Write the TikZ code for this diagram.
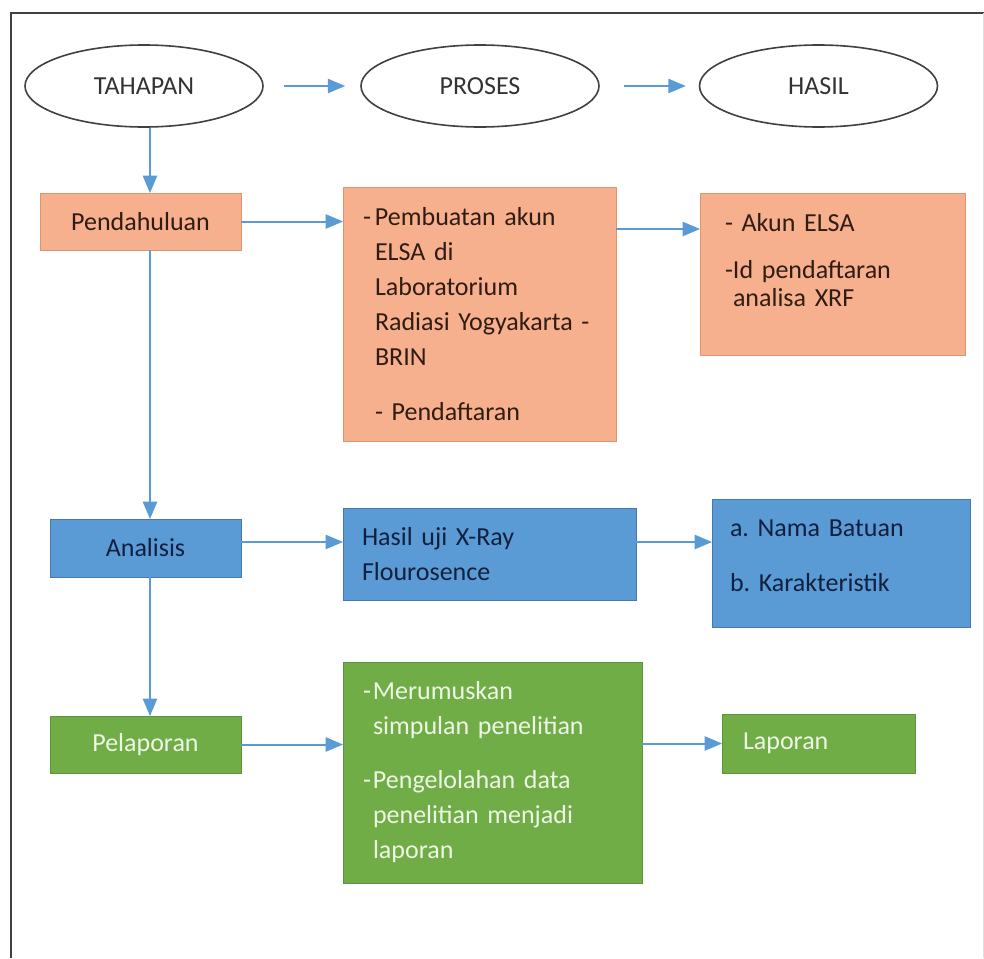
\documentclass[tikz,border=0pt]{standalone}
\usepackage{fontspec}
\setmainfont{Carlito}
\usepackage{xcolor}
\usepackage{tikz}
\usetikzlibrary{arrows,shapes.geometric}

\definecolor{oranyeFill}{RGB}{246,176,142}
\definecolor{oranyeLine}{RGB}{224,148,110}
\definecolor{oranyeText}{RGB}{48,28,18}
\definecolor{biruFill}{RGB}{91,155,213}
\definecolor{biruLine}{RGB}{70,120,170}
\definecolor{biruText}{RGB}{16,32,62}
\definecolor{hijauFill}{RGB}{112,173,71}
\definecolor{hijauLine}{RGB}{92,150,58}
\definecolor{hijauText}{RGB}{238,247,230}
\definecolor{panahBiru}{RGB}{91,155,213}

\begin{document}
\begin{tikzpicture}[
x=0.5pt, y=-0.5pt,
font=\fontsize{13}{17.5}\selectfont,
    E/.style = {ellipse, draw=black!75, line width=0.8pt,% header ovals
                minimum width=119pt, minimum height=41pt, text=black!80},
    O/.style = {rectangle, draw=oranyeLine, fill=oranyeFill,% tahap pendahuluan
                text=oranyeText, outer sep=0pt},
    B/.style = {rectangle, draw=biruLine, fill=biruFill,% tahap analisis
                text=biruText, outer sep=0pt},
    G/.style = {rectangle, draw=hijauLine, fill=hijauFill,% tahap pelaporan
                text=hijauText, outer sep=0pt},
    panah/.style = {draw=panahBiru, line width=1pt, -triangle 45},
                        ]
\useasboundingbox (0,0) rectangle (984,958);
% frame
\draw[line width=1pt, black!75] (11,958) -- (11,13) -- (984,13);
\draw[black!12] (983,13) -- (983,958);
% header
\node[E] (tahapan) at (144,86) {TAHAPAN};
\node[E] (proses)  at (480,86) {PROSES};
\node[E] (hasil)   at (818.5,86) {HASIL};
\draw[panah, shorten <=10pt, shorten >=7.5pt] (tahapan) -- (proses);
\draw[panah, shorten <=12pt, shorten >=6.5pt] (proses) -- (hasil);
% pendahuluan
\node[O, minimum width=100.5pt, minimum height=28.5pt] (pendahuluan) at (140.5,221.5) {Pendahuluan};
\node[O, minimum width=136.5pt, minimum height=127pt, inner xsep=10pt,
      text width=116.5pt, align=left] (prosesA) at (479.5,314)
     {\makebox[6pt][l]{-}Pembuatan akun\\
      \hspace*{6pt}ELSA di\\
      \hspace*{6pt}Laboratorium\\
      \hspace*{6pt}Radiasi Yogyakarta -\\
      \hspace*{6pt}BRIN\\[10pt]
      \hspace*{6pt}- Pendaftaran};
\node[O, minimum width=132.5pt, minimum height=81pt, inner xsep=12.5pt,
      text width=107.5pt, align=left, font=\fontsize{13}{14}\selectfont] (hasilA) at (832.5,274)
     {- Akun ELSA\\[9.5pt]
      \makebox[4pt][l]{-}Id pendaftaran\\
      \hspace*{4pt}analisa XRF\par\vspace*{13.5pt}};
% analisis
\node[B, minimum width=95.5pt, minimum height=29pt] (analisis) at (145.5,548) {Analisis};
\node[B, minimum width=146.5pt, minimum height=46pt, inner xsep=9.5pt,
      text width=127.5pt, align=left] (prosesB) at (489.5,554)
     {Hasil uji X-Ray\\ Flourosence};
\node[B, minimum width=129pt, minimum height=64pt, inner xsep=9pt,
      text width=111pt, align=left] (hasilB) at (841,563)
     {a.\ Nama Batuan\\[10pt]
      b.\ Karakteristik\par\vspace*{7.5pt}};
% pelaporan
\node[G, minimum width=95.5pt, minimum height=28.5pt] (pelaporan) at (145.5,744.5) {Pelaporan};
\node[G, minimum width=149.5pt, minimum height=110.5pt, inner xsep=10pt,
      text width=129.5pt, align=left] (prosesC) at (492.5,772.5)
     {\makebox[5pt][l]{-}Merumuskan\\
      \hspace*{5pt}simpulan penelitian\\[9.5pt]
      \makebox[5pt][l]{-}Pengelolahan data\\
      \hspace*{5pt}penelitian menjadi\\
      \hspace*{5pt}laporan};
\node[G, minimum width=96.5pt, minimum height=29.5pt, inner xsep=10.5pt,
      text width=75.5pt, align=left] (hasilC) at (818.5,743.5) {Laporan};
% alur vertikal
\coordinate (sumbu) at (150,0);
\draw[panah] (tahapan.south -| sumbu) -- (pendahuluan.north -| sumbu);
\draw[panah] (pendahuluan.south -| sumbu) -- (analisis.north -| sumbu);
\draw[panah] (analisis.south -| sumbu) -- (pelaporan.north -| sumbu);
% alur horizontal
\draw[panah] (pendahuluan.east) -- (pendahuluan.east -| prosesA.west);
\draw[panah] ([yshift=42.5pt]prosesA.east) coordinate (pA) -- (pA -| hasilA.west);
\draw[panah] ([yshift=3pt]analisis.east) coordinate (aA) -- (aA -| prosesB.west);
\draw[panah] ([yshift=6pt]prosesB.east) coordinate (aB) -- (aB -| hasilB.west);
\draw[panah] (pelaporan.east) -- (pelaporan.east -| prosesC.west);
\draw[panah] (hasilC.west -| prosesC.east) -- (hasilC.west);
\end{tikzpicture}
\end{document}
